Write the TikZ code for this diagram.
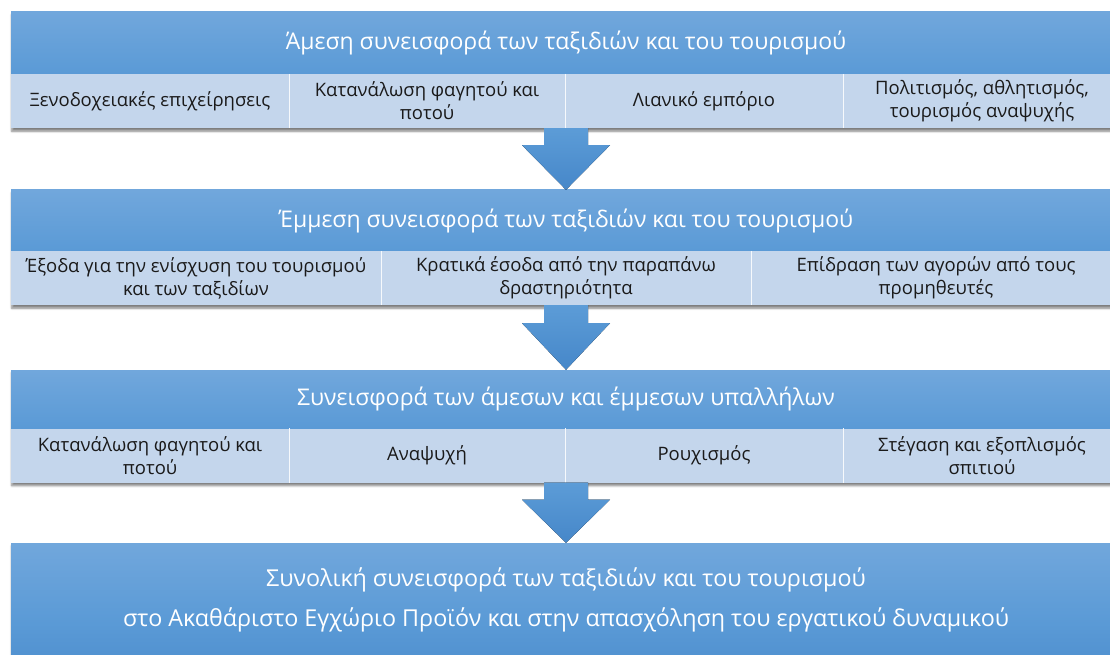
\documentclass[tikz,border=0pt]{standalone}
\usepackage{fontspec}
\setmainfont{Open Sans}
\usetikzlibrary{shadows.blur,backgrounds,calc}
\definecolor{hdtop}{HTML}{71A7DC}
\definecolor{hdbot}{HTML}{5A9AD6}
\definecolor{subfill}{HTML}{C4D6EC}
\definecolor{arrtop}{HTML}{5C9CD7}
\definecolor{arrbot}{HTML}{4687C9}
\definecolor{txt}{HTML}{1A1A1A}
\tikzset{
  hdr/.style={rectangle, inner sep=0pt, minimum width=1110pt, minimum height=62pt,
    top color=hdtop, bottom color=hdbot, text=white, font=\fontsize{23}{27}\selectfont},
  sub/.style={rectangle, inner sep=0pt, fill=subfill, minimum height=54pt,
    text=txt, align=center, font=\fontsize{18.5}{23}\selectfont},
  divider/.style={draw=white!85!subfill, line width=1pt},
  blockarrow/.style={top color=arrtop, bottom color=arrbot, draw=none},
  grpshadow/.style={fill=white, blur shadow={shadow xshift=1pt, shadow yshift=-3pt, shadow opacity=50, shadow blur steps=6}},
}
\begin{document}
\begin{tikzpicture}[x=1pt,y=-1pt]
\useasboundingbox (0,0) rectangle (1110,655);
% ---- box 1 ----
\node[hdr] (h1) at (566,43) {Άμεση συνεισφορά των ταξιδιών και του τουρισμού};
\node[sub, minimum width=278pt] (c11) at (150,101) {Ξενοδοχειακές επιχείρησεις};
\node[sub, minimum width=276pt] (c12) at (427,101) {Κατανάλωση φαγητού και\\ποτού};
\node[sub, minimum width=278pt] (c13) at (704,101) {Λιανικό εμπόριο};
\node[sub, minimum width=278pt] (c14) at (982,101) {Πολιτισμός, αθλητισμός,\\τουρισμός αναψυχής};
\draw[divider] (c11.north east) -- (c11.south east);
\draw[divider] (c12.north east) -- (c12.south east);
\draw[divider] (c13.north east) -- (c13.south east);
% ---- box 2 ----
\node[hdr, minimum height=61pt] (h2) at (566,220.5) {Έμμεση συνεισφορά των ταξιδιών και του τουρισμού};
\node[sub, minimum width=370pt] (c21) at (196,278) {Έξοδα για την ενίσχυση του τουρισμού\\και των ταξιδίων};
\node[sub, minimum width=370pt] (c22) at (566,278) {Κρατικά έσοδα από την παραπάνω\\δραστηριότητα};
\node[sub, minimum width=370pt] (c23) at (936,278) {Επίδραση των αγορών από τους\\προμηθευτές};
\draw[divider] (c21.north east) -- (c21.south east);
\draw[divider] (c22.north east) -- (c22.south east);
% ---- box 3 ----
\node[hdr, minimum height=58pt] (h3) at (566,399) {Συνεισφορά των άμεσων και έμμεσων υπαλλήλων};
\node[sub, minimum width=278pt] (c31) at (150,455.5) {Κατανάλωση φαγητού και\\ποτού};
\node[sub, minimum width=276pt] (c32) at (427,455.5) {Αναψυχή};
\node[sub, minimum width=278pt] (c33) at (704,455.5) {Ρουχισμός};
\node[sub, minimum width=278pt] (c34) at (982,455.5) {Στέγαση και εξοπλισμός\\σπιτιού};
\draw[divider] (c31.north east) -- (c31.south east);
\draw[divider] (c32.north east) -- (c32.south east);
\draw[divider] (c33.north east) -- (c33.south east);
% ---- box 4 ----
\node[rectangle, inner sep=0pt, minimum width=1110pt, minimum height=160pt,
  top color=hdtop, bottom color=arrbot, middle color=hdbot] (h4) at (566,623) {};
\node[text=white, align=center, font=\fontsize{23.3}{40}\selectfont] (t4) at (566,600)
  {Συνολική συνεισφορά των ταξιδιών και του τουρισμού\\στο Ακαθάριστο Εγχώριο Προϊόν και στην απασχόληση του εργατικού δυναμικού};
% ---- shadows ----
\begin{scope}[on background layer]
\fill[grpshadow] (h1.north west) rectangle (c14.south east);
\fill[grpshadow] (h2.north west) rectangle (c23.south east);
\fill[grpshadow] (h3.north west) rectangle (c34.south east);
\fill[grpshadow] (h4.north west) rectangle (h4.south east);
\end{scope}
% ---- arrows ----
\foreach \a/\b/\h in {c12/h2/17, c22/h3/18, c32/h4/17}{
  \path let \p1=($(\a.south)$), \p2=($(\b.north)$) in
    coordinate (s) at (\x2,\y1) coordinate (t) at (\x2,\y2);
  \fill[blockarrow]
    ($(s)+(-22,0)$) -- ($(s)+(22,0)$) -- ($(s)+(22,\h)$) -- ($(s)+(44,\h)$)
    -- (t) -- ($(s)+(-44,\h)$) -- ($(s)+(-22,\h)$) -- cycle;
}
\end{tikzpicture}
\end{document}
